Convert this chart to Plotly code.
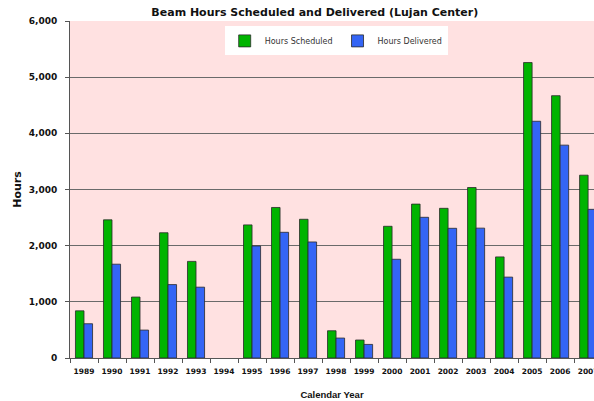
import plotly.graph_objects as go

YEARS = [str(y) for y in range(1989, 2008)]
HOURS_SCHEDULED = [840, 2460, 1085, 2230, 1720, None, 2370, 2680, 2470, 485, 320,
                   2345, 2740, 2665, 3035, 1800, 5260, 4670, 3255]
HOURS_DELIVERED = [610, 1670, 497, 1307, 1261, None, 1995, 2238, 2066, 355, 242,
                   1758, 2505, 2309, 2312, 1440, 4215, 3790, 2647]

GREEN = "#00B400"
BLUE = "#3465F5"
BAR_EDGE = "#2a2a2a"
BOLD = "DejaVu Sans"

fig = go.Figure()
fig.add_trace(go.Bar(x=YEARS, y=HOURS_SCHEDULED, name="Hours Scheduled",
                     marker=dict(color=GREEN, line=dict(color=BAR_EDGE, width=0.8))))
fig.add_trace(go.Bar(x=YEARS, y=HOURS_DELIVERED, name="Hours Delivered",
                     marker=dict(color=BLUE, line=dict(color=BAR_EDGE, width=0.8))))

fig.update_layout(
    width=594,
    height=401,
    margin=dict(l=70, r=0, t=21, b=43, autoexpand=False),
    paper_bgcolor="white",
    plot_bgcolor="#FFE1E1",
    barmode="group",
    bargap=0.39,
    bargroupgap=0,
    font=dict(family=BOLD, color="#111"),
    title=dict(
        text="<b>Beam Hours Scheduled and Delivered (Lujan Center)</b>",
        font=dict(size=11, family=BOLD, color="#111"),
        x=0.53, xref="container", xanchor="center",
        y=1 - 12 / 401, yref="container", yanchor="middle",
    ),
    legend=dict(
        orientation="h",
        x=0.508, xanchor="center",
        y=0.941, yanchor="middle",
        bgcolor="white",
        font=dict(size=8, family=BOLD, color="#333"),
        itemwidth=30,
        tracegroupgap=0,
    ),
    showlegend=True,
)

fig.update_xaxes(
    type="category",
    range=[-0.5, 18.21],
    automargin=False,
    tickangle=0,
    tickson="boundaries",
    ticks="outside",
    ticklen=4,
    tickcolor="#555",
    ticklabelstandoff=6,
    showline=True,
    linecolor="#555",
    linewidth=1,
    showgrid=False,
    tickfont=dict(size=7.5, family=BOLD, color="#111"),
    tickprefix="<b>", ticksuffix="</b>",
    title=dict(text="<b>Calendar Year</b>", font=dict(size=9.5, family="Liberation Sans"),
               standoff=16),
)

fig.update_yaxes(
    range=[0, 6000],
    automargin=False,
    tickvals=[0, 1000, 2000, 3000, 4000, 5000, 6000],
    ticktext=["<b>0</b>", "<b>1,000</b>", "<b>2,000</b>", "<b>3,000</b>",
              "<b>4,000</b>", "<b>5,000</b>", "<b>6,000</b>"],
    ticks="outside",
    ticklen=4,
    tickcolor="#555",
    ticklabelstandoff=6,
    showline=True,
    linecolor="#555",
    linewidth=1,
    showgrid=True,
    gridcolor="#6a6a6a",
    gridwidth=1,
    zeroline=False,
    tickfont=dict(size=9, family=BOLD, color="#111"),
    title=dict(text="<b>Hours</b>", font=dict(size=11, family=BOLD), standoff=4),
)

# drop the default page margin so the figure sits at the window's corner
fig.write_html(
    "out.html",
    config={"displayModeBar": False},
    post_script="document.body.style.margin='0';document.body.style.overflow='hidden';",
)
